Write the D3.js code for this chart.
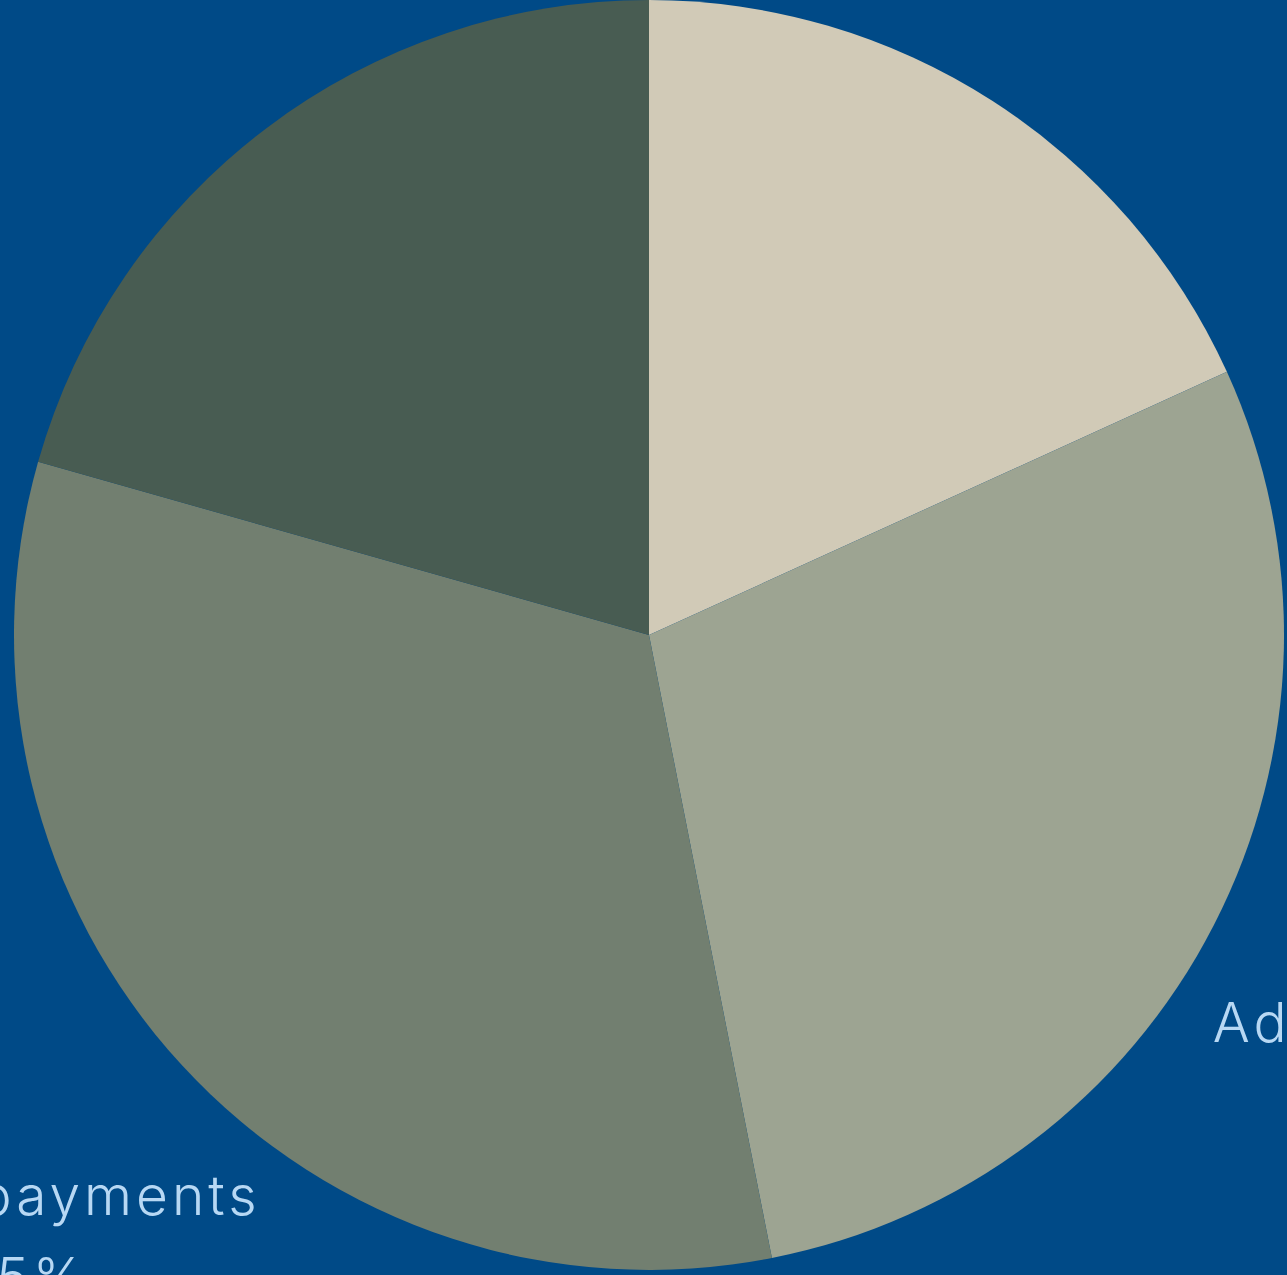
<!DOCTYPE html>
<html>
<head>
<meta charset="utf-8">
<script src="https://cdn.jsdelivr.net/npm/d3@7"></script>
<style>
  html, body { margin: 0; padding: 0; background: #004a87; overflow: hidden; }
  svg { display: block; }
</style>
</head>
<body>
<svg id="chart" width="1287" height="1275"></svg>
<script>
// slice data, clockwise from 12 o'clock
var categories = ["Subscriptions", "Advertisements", "Client repayments", "Other income"];
var shares = [18.2, 28.7, 32.5, 20.6];
var sliceColors = ["#d1cab7", "#9da492", "#727f70", "#485c52"];

var svg = d3.select("#chart"),
    width = +svg.attr("width"),
    height = +svg.attr("height"),
    radius = 635,
    cx = 649,
    cy = 635;

svg.append("rect")
    .attr("width", width)
    .attr("height", height)
    .attr("fill", "#004a87");

var g = svg.append("g").attr("transform", "translate(" + cx + "," + cy + ")");

var data = categories.map(function(c, i) {
    return { name: c, value: shares[i], color: sliceColors[i] };
});

var pie = d3.pie()
    .sort(null)
    .value(function(d) { return d.value; });

var arc = d3.arc()
    .innerRadius(0)
    .outerRadius(radius);

var arcs = pie(data);

// draw the slices
g.selectAll("path.slice")
    .data(arcs)
    .enter().append("path")
    .attr("class", "slice")
    .attr("fill", function(d) { return d.data.color; })
    .attr("d", arc);

// labels outside the pie, two centred lines: name and share
// (lower half hangs below the label point, upper half sits above it)
var fmt = d3.format(".1f");
var labelRx = 889, labelRy = 783, lineH = 82;

var labels = g.selectAll("text.label")
    .data(arcs)
    .enter().append("text")
    .attr("class", "label")
    .attr("fill", "#b7d8f4")
    .attr("text-anchor", "middle")
    .style("font-family", "Inter, 'Noto Sans', sans-serif")
    .style("font-weight", 300)
    .style("letter-spacing", "4px")
    .style("font-size", "55px");

labels.each(function(d) {
    var t = d3.select(this);
    var a = (d.startAngle + d.endAngle) / 2;
    var x = labelRx * Math.sin(a),
        y = -labelRy * Math.cos(a);
    var y1 = Math.cos(a) < 0 ? y + 49 : y - 20 - lineH;
    t.append("tspan").attr("x", x).attr("y", y1).text(d.data.name);
    t.append("tspan").attr("x", x).attr("y", y1 + lineH).text(fmt(d.data.value) + "%");
});
</script>
</body>
</html>
